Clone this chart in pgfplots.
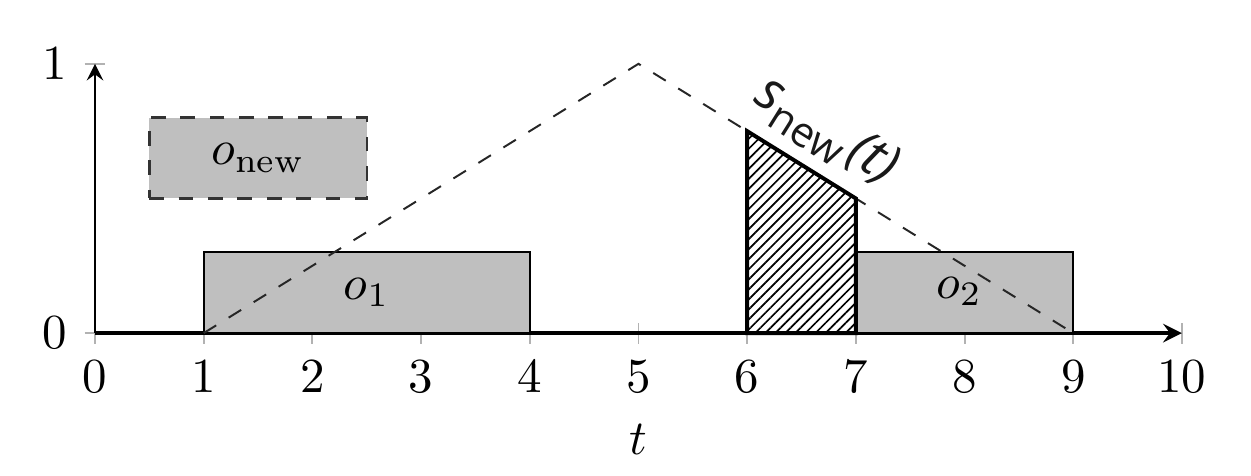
\documentclass[border=0pt]{standalone}
\usepackage{pgfplots}
\pgfplotsset{compat=1.18}
\usepackage{fontspec}
\newfontfamily\sansit{Open Sans}
\usetikzlibrary{patterns.meta}
\begin{document}
\begin{tikzpicture}
\begin{axis}[
  scale only axis, width=222pt, height=55pt,
  axis lines=middle, xmin=0, xmax=10, ymin=0, ymax=1,
  xtick={0,1,2,3,4,5,6,7,8,9,10}, ytick={0,1},
  hide obscured x ticks=false, hide obscured y ticks=false,
  tick style={gray!60, thin},
  xlabel={$t$},
  xlabel style={at={(axis description cs:0.5,-0.275)}, anchor=north},
  clip=false,
  x axis line style={line width=0.7pt},
  y axis line style={line width=0.5pt},
]
% o_new
\addplot[fill=gray!50, draw=black!80, dashed, line width=0.5pt] coordinates {(0.5,0.5) (2.5,0.5) (2.5,0.8) (0.5,0.8)} -- cycle;
% o_1
\addplot[fill=gray!50, draw=black, line width=0.4pt] coordinates {(1,0) (4,0) (4,0.3) (1,0.3)} -- cycle;
% o_2
\addplot[fill=gray!50, draw=black, line width=0.4pt] coordinates {(7,0) (9,0) (9,0.3) (7,0.3)} -- cycle;
% dashed triangle
\addplot[dashed, draw=black!85, line width=0.4pt] coordinates {(1,0) (5,1) (9,0)};
% hatched
\addplot[pattern={Lines[angle=45, distance=1.45pt, line width=0.35pt]}, draw=black, line width=0.8pt] coordinates {(6,0) (6,0.75) (7,0.5) (7,0)} -- cycle;
\node at (axis cs:1.5,0.65) {$o_{\mathrm{new}}$};
\node at (axis cs:2.5,0.15) {$o_1$};
\node at (axis cs:7.95,0.155) {$o_2$};
\node[rotate=-32, inner sep=1pt, text=black!90] at (axis cs:6.72,0.745) {\sansit\fontsize{11}{13}\selectfont\itshape s\raisebox{-0.45ex}{\upshape\fontsize{8.5}{10}\selectfont new}\kern1pt(t)};
\path (rel axis cs:-0.0874,-0.53) rectangle (rel axis cs:1.0635,1.237);
\end{axis}
\end{tikzpicture}
\end{document}
